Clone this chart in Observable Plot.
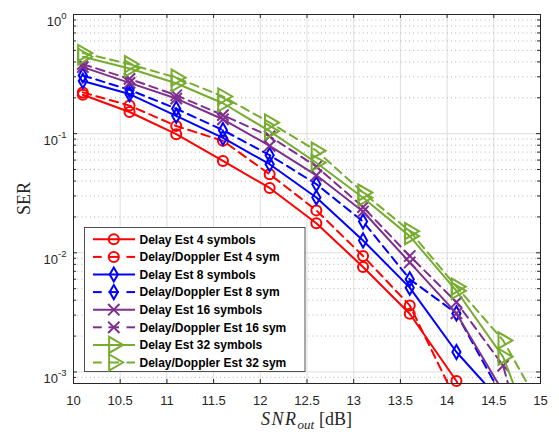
<!DOCTYPE html>
<html><head><meta charset="utf-8">
<script src="https://cdn.jsdelivr.net/npm/d3@7"></script>
<script src="https://cdn.jsdelivr.net/npm/@observablehq/plot@0.6"></script>
<style>body{margin:0;background:#fff;}</style>
</head><body><div id="chart"></div>
<script>
// ---- data ----
const snr = [10.1, 10.6, 11.1, 11.6, 12.1, 12.6, 13.1, 13.6, 14.1, 14.6, 15.1];
const delay4  = [0.212, 0.152, 0.099, 0.059, 0.0350, 0.0177, 0.0076, 0.00308, 0.00084, 0.00012, null];
const dd4     = [0.222, 0.172, 0.116, 0.087, 0.0457, 0.0227, 0.0094, 0.00362, 0.00057, null, null];
const delay8  = [0.277, 0.215, 0.141, 0.092, 0.0554, 0.0291, 0.0127, 0.0051, 0.00147, 0.00054, null];
const dd8     = [0.308, 0.233, 0.162, 0.107, 0.066, 0.0377, 0.0183, 0.0060, 0.0031, 0.0006, null];
const delay16 = [0.362, 0.267, 0.197, 0.132, 0.079, 0.0447, 0.0222, 0.0083, 0.0031, 0.00068, null];
const dd16    = [0.383, 0.288, 0.210, 0.143, 0.095, 0.053, 0.0242, 0.0094, 0.00385, 0.00113, 0.00004];
const delay32 = [0.442, 0.352, 0.265, 0.180, 0.105, 0.057, 0.029, 0.0138, 0.0048, 0.00134, 0.000125];
const dd32    = [0.475, 0.383, 0.295, 0.205, 0.124, 0.072, 0.032, 0.0152, 0.0052, 0.00184, 0.00037];
const seriesNames = [
  "Delay Est 4 symbols", "Delay/Doppler Est 4 sym",
  "Delay Est 8 symbols", "Delay/Doppler Est 8 sym",
  "Delay Est 16 symbols", "Delay/Doppler Est 16 sym",
  "Delay Est 32 symbols", "Delay/Doppler Est 32 sym"
];
const seriesValues = [delay4, dd4, delay8, dd8, delay16, dd16, delay32, dd32];
const xTicks = [10, 10.5, 11, 11.5, 12, 12.5, 13, 13.5, 14, 14.5, 15];
const yTicks = [0.001, 0.01, 0.1, 1];
const yTickExponents = ["-3", "-2", "-1", "0"];
const xLabel = ["SNR", "out", "[dB]"];
const yLabel = "SER";

// ---- styles ----
const styles = [
  {color: "#FF0000", symbol: "circle",   r: 5.0, rotate: 0,  dashed: false},
  {color: "#FF0000", symbol: "circle",   r: 5.0, rotate: 0,  dashed: true},
  {color: "#0000FF", symbol: "diamond",  r: 4.3, rotate: 0,  dashed: false},
  {color: "#0000FF", symbol: "diamond",  r: 4.3, rotate: 0,  dashed: true},
  {color: "#7E2F8E", symbol: "times",    r: 5.2, rotate: 0,  dashed: false},
  {color: "#7E2F8E", symbol: "times",    r: 5.2, rotate: 0,  dashed: true},
  {color: "#77AC30", symbol: "triangle", r: 6.0, rotate: 90, dashed: false},
  {color: "#77AC30", symbol: "triangle", r: 6.0, rotate: 90, dashed: true}
];
const W = 559, H = 432, mL = 73, mR = 19, mT = 14, mB = 49;
const plotW = W - mL - mR, plotH = H - mT - mB;
const yDomain = [8e-4, 1], xDomain = [10, 15];
const axisColor = "#262626";

const minorY = [];
for (let e = -4; e < 0; e++) for (let k = 2; k <= 9; k++) {
  const v = k * Math.pow(10, e);
  if (v > yDomain[0] && v < yDomain[1]) minorY.push(v);
}

const seriesMarks = [];
seriesValues.forEach((vals, si) => {
  const st = styles[si];
  const rows = snr.map((x, i) => ({snr: x, ser: vals[i]})).filter(d => d.ser != null);
  const vis = rows.filter(d => d.ser >= yDomain[0] && d.snr <= xDomain[1]);
  seriesMarks.push(Plot.line(rows, {x: "snr", y: "ser", stroke: st.color, strokeWidth: 2,
    strokeDasharray: st.dashed ? "8.5,5.5" : null, clip: true}));
  seriesMarks.push(Plot.dot(vis, {x: "snr", y: "ser", symbol: st.symbol, r: st.r, rotate: st.rotate,
    stroke: st.color, fill: "none", strokeWidth: 2}));
});

const chart = Plot.plot({
  width: W, height: H,
  marginLeft: mL, marginRight: mR, marginTop: mT, marginBottom: mB,
  style: {fontFamily: "'Liberation Sans', Arial, sans-serif", fontSize: "13px", color: axisColor, background: "#fff"},
  x: {domain: xDomain},
  y: {type: "log", domain: yDomain},
  marks: [
    Plot.ruleX(xTicks, {stroke: "#dedede", strokeWidth: 1}),
    Plot.ruleY(minorY, {stroke: "#b4b4b4", strokeDasharray: "1,3.2", strokeWidth: 1}),
    Plot.ruleY(yTicks, {stroke: "#dedede", strokeWidth: 1}),
    Plot.ruleX(xTicks, {insetTop: plotH - 4, stroke: axisColor}),
    Plot.ruleX(xTicks, {insetBottom: plotH - 4, stroke: axisColor}),
    Plot.ruleY(yTicks, {insetRight: plotW - 4, stroke: axisColor}),
    Plot.ruleY(yTicks, {insetLeft: plotW - 4, stroke: axisColor}),
    Plot.ruleY(minorY, {insetRight: plotW - 3, stroke: axisColor}),
    Plot.ruleY(minorY, {insetLeft: plotW - 3, stroke: axisColor}),
    ...seriesMarks,
    Plot.frame({stroke: axisColor, strokeWidth: 1}),
    Plot.axisX({ticks: xTicks, tickSize: 0, tickPadding: 12, tickFormat: d => String(d), label: null}),
    Plot.axisY({ticks: yTicks, tickSize: 0, tickPadding: 7, tickFormat: d => "10|" + yTickExponents[yTicks.indexOf(d)], label: null})
  ]
});
document.getElementById("chart").appendChild(chart);

const svg = d3.select(chart);
// superscript exponents on y tick labels
svg.selectAll('g[aria-label="y-axis tick label"] text').each(function() {
  const t = d3.select(this);
  const parts = t.text().split("|");
  t.text(null).attr("dy", "0.55em");
  t.append("tspan").text(parts[0]);
  t.append("tspan").attr("font-size", "9.5px").attr("dy", "-0.75em").text(parts[1]);
});

// axis labels
const serif = "'Liberation Serif', 'Times New Roman', serif";
const xl = svg.append("text").attr("x", mL + plotW / 2).attr("y", 425)
  .attr("text-anchor", "middle").attr("fill", axisColor)
  .style("font-family", serif).style("font-size", "18px");
xl.append("tspan").attr("font-style", "italic").attr("letter-spacing", "1.5px").text(xLabel[0]);
xl.append("tspan").attr("font-style", "italic").attr("font-size", "13px").attr("dy", 4).text(xLabel[1]);
xl.append("tspan").attr("dy", -4).attr("dx", 5).text(xLabel[2]);
svg.append("text").attr("transform", `translate(30,${mT + plotH / 2}) rotate(-90)`)
  .attr("text-anchor", "middle").attr("fill", axisColor)
  .style("font-family", serif).style("font-size", "18px")
  .text(yLabel);

// legend
const lg = svg.append("g").attr("text-anchor", "start");
lg.append("rect").attr("x", 84.5).attr("y", 227.5).attr("width", 220.5).attr("height", 144)
  .attr("fill", "#fff").attr("stroke", axisColor).attr("stroke-width", 0.8);
const symMap = {circle: d3.symbolCircle, diamond: d3.symbolDiamond, times: d3.symbolTimes, triangle: d3.symbolTriangle};
seriesNames.forEach((name, i) => {
  const st = styles[i];
  const y = 239.3 + i * 17.6;
  const segs = st.dashed ? [[93, 101.7], [108.5, 119], [126.5, 135]] : [[93, 135]];
  segs.forEach(([a, b]) => lg.append("line").attr("x1", a).attr("x2", b).attr("y1", y).attr("y2", y)
    .attr("stroke", st.color).attr("stroke-width", 2));
  lg.append("path").attr("d", d3.symbol(symMap[st.symbol], Math.PI * st.r * st.r)())
    .attr("transform", `translate(113.8,${y}) rotate(${st.rotate})`)
    .attr("fill", "none").attr("stroke", st.color).attr("stroke-width", 2);
  lg.append("text").attr("x", 139.5).attr("y", y).attr("dy", "0.36em").attr("fill", "#000")
    .attr("text-anchor", "start")
    .style("font-family", "'Liberation Sans', Arial, sans-serif").style("font-size", "12px").style("font-weight", "bold")
    .text(name);
});
</script>
</body></html>
